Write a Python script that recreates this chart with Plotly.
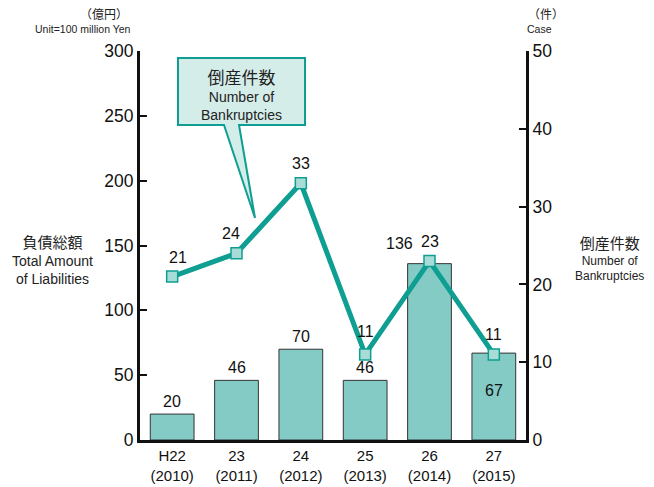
import plotly.graph_objects as go

categories = ["H22<br>(2010)", "23<br>(2011)", "24<br>(2012)", "25<br>(2013)", "26<br>(2014)", "27<br>(2015)"]
liabilities = [20, 46, 70, 46, 136, 67]
bankruptcies = [21, 24, 33, 11, 23, 11]
left_ticks = [0, 50, 100, 150, 200, 250, 300]
right_ticks = [0, 10, 20, 30, 40, 50]

FONT = "Liberation Sans, Arial, Noto Sans CJK JP, sans-serif"
TEAL = "#0f9e92"
BAR = "#84cbc6"

fig = go.Figure()
fig.add_trace(go.Bar(x=categories, y=liabilities, width=0.68,
                     marker=dict(color=BAR, line=dict(color="#333333", width=1)),
                     yaxis="y", showlegend=False))
fig.add_trace(go.Scatter(x=categories, y=bankruptcies, mode="lines+markers",
                         line=dict(color=TEAL, width=5),
                         marker=dict(symbol="square", size=11, color="#a8dcd6",
                                     line=dict(color=TEAL, width=1.5)),
                         yaxis="y2", showlegend=False))

ann = []
# bar labels
bar_off = [(0, 2), (0, 2), (0, 2), (0, 2), (-30, 10), (0, -48)]
for i, (c, v) in enumerate(zip(categories, liabilities)):
    dx, dy = bar_off[i]
    ann.append(dict(x=c, y=v, xref="x", yref="y", text=str(v), showarrow=False,
                    xanchor="center", yanchor="bottom", xshift=dx, yshift=dy,
                    font=dict(size=16, color="#111", family=FONT)))
line_off = [(6, 9), (-6, 9), (0, 9), (0, 12), (0, 9), (0, 9)]
for i, (c, v) in enumerate(zip(categories, bankruptcies)):
    dx, dy = line_off[i]
    ann.append(dict(x=c, y=v, xref="x", yref="y2", text=str(v), showarrow=False,
                    xanchor="center", yanchor="bottom", xshift=dx, yshift=dy,
                    font=dict(size=16, color="#111", family=FONT)))

def px(x): return (x - 140) / 386
def py(y): return (440 - y) / 389

def txt(x, y, text, size):
    return dict(x=px(x), y=py(y), xref="paper", yref="paper", text=text, showarrow=False,
                xanchor="center", yanchor="middle",
                font=dict(size=size, family=FONT, color="#222"))

ann += [
    txt(104, 15, "（億円）", 12),
    txt(83, 29, "Unit=100 million Yen", 10.5),
    txt(546, 15, "（件）", 12),
    txt(539, 29, "Case", 10.5),
    txt(52, 260, "<span style='font-size:15px'>負債総額</span><br>Total Amount<br>of Liabilities", 14),
    txt(609, 259, "<span style='font-size:15px'>倒産件数</span><br>Number of<br>Bankruptcies", 12),
    txt(241, 96, "<span style='font-size:17px'>倒産件数</span><br>Number of<br>Bankruptcies", 14),
]

x0, x1, y0, y1 = px(178), px(305), py(58), py(125)
b1, b2, tx, ty = px(224), px(239), px(255), py(218)
path = (f"M {x0},{y0} L {x1},{y0} L {x1},{y1} L {b2},{y1} L {tx},{ty} "
        f"L {b1},{y1} L {x0},{y1} Z")
shapes = [dict(type="path", xref="paper", yref="paper", path=path,
               fillcolor="#d5ede9", line=dict(color=TEAL, width=2))]

# The page body adds an 8px margin; these margins compensate for it.
fig.update_layout(
    width=654, height=487,
    margin=dict(l=132, r=136, t=43, b=55, autoexpand=False),
    plot_bgcolor="white", paper_bgcolor="white",
    font=dict(family=FONT, color="#111"),
    xaxis=dict(range=[-0.5, 5.5], showline=True, linecolor="#111", linewidth=3,
               ticks="", showgrid=False, tickangle=0, automargin=False,
               tickfont=dict(size=15, family=FONT)),
    yaxis=dict(range=[0, 300], tickvals=left_ticks, showline=True, linecolor="#111", linewidth=3,
               ticks="inside", ticklen=7, tickwidth=2, tickcolor="#111", automargin=False,
               showgrid=False, zeroline=False, tickfont=dict(size=17.5, family=FONT)),
    yaxis2=dict(range=[0, 50], tickvals=right_ticks, overlaying="y", side="right",
                showline=True, linecolor="#111", linewidth=3, automargin=False,
                ticks="inside", ticklen=7, tickwidth=2, tickcolor="#111",
                showgrid=False, zeroline=False, tickfont=dict(size=17.5, family=FONT)),
    annotations=ann,
    shapes=shapes,
)

fig.write_html("out.html")
